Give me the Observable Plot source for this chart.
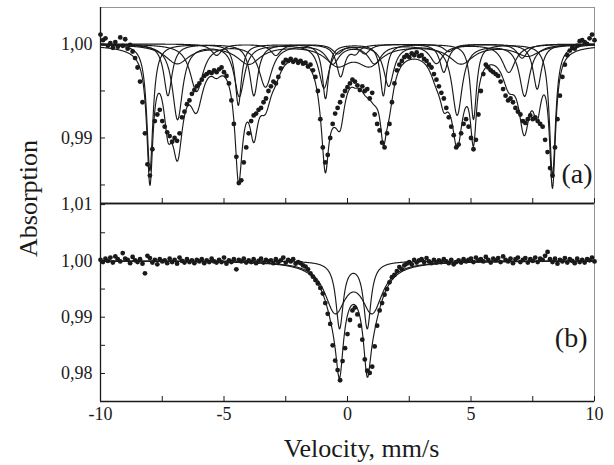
<!DOCTYPE html>
<html><head><meta charset="utf-8">
<script src="https://cdn.jsdelivr.net/npm/d3@7"></script>
<script src="https://cdn.jsdelivr.net/npm/@observablehq/plot@0.6"></script>
<style>
body{margin:0;background:#fff;}
#wrap{position:relative;width:614px;height:465px;background:#fff;}
</style></head><body><div id="wrap"></div>
<script>
// ---------- data ----------
const xDomain = [-10, 10];
const xTicks = [-10, -5, 0, 5, 10];
const xMinorTicks = [-7.5, -2.5, 2.5, 7.5];
const yDomainA = [0.98303, 1.00388];
const yTicksA = [0.99, 1.00];
const yMinorA = [0.985, 0.995];
const yDomainB = [0.97502, 1.0102];
const yTicksB = [0.98, 0.99, 1.00, 1.01];
const yMinorB = [0.985, 0.995, 1.005];

// channel velocities (mm/s), one per measured point
const channelStart = -10, channelStep = 0.1, channelCount = 201;

// panel (a) measured absorption, from -10 to 10 mm/s
const absorptionA = [
1.0010,1.0004,1.0006,0.9998,1.0001,0.9996,1.0002,0.9997,1.0007,0.9998,
1.0005,0.9995,0.9999,0.9992,0.9985,0.9975,0.9960,0.9938,0.9905,0.9872,
0.9860,0.9888,0.9918,0.9925,0.9930,0.9918,0.9912,0.9906,0.9902,0.9896,
0.9900,0.9897,0.9905,0.9922,0.9928,0.9936,0.9940,0.9947,0.9951,0.9955,
0.9958,0.9962,0.9966,0.9968,0.9970,0.9969,0.9972,0.9970,0.9973,0.9975,
0.9970,0.9966,0.9958,0.9940,0.9915,0.9880,0.9852,0.9855,0.9874,0.9890,
0.9905,0.9918,0.9924,0.9926,0.9930,0.9932,0.9938,0.9942,0.9950,0.9955,
0.9960,0.9958,0.9965,0.9974,0.9980,0.9983,0.9982,0.9984,0.9981,0.9983,
0.9980,0.9982,0.9979,0.9980,0.9976,0.9978,0.9972,0.9965,0.9950,0.9920,
0.9890,0.9874,0.9882,0.9900,0.9915,0.9926,0.9932,0.9938,0.9945,0.9950,
0.9954,0.9958,0.9962,0.9960,0.9956,0.9951,0.9955,0.9950,0.9952,0.9942,
0.9948,0.9925,0.9915,0.9908,0.9895,0.9890,0.9905,0.9915,0.9938,0.9958,
0.9972,0.9978,0.9982,0.9986,0.9988,0.9986,0.9990,0.9988,0.9991,0.9987,
0.9988,0.9984,0.9982,0.9978,0.9975,0.9968,0.9962,0.9955,0.9948,0.9942,
0.9932,0.9922,0.9912,0.9903,0.9890,0.9893,0.9905,0.9915,0.9920,0.9912,
0.9900,0.9888,0.9898,0.9925,0.9950,0.9968,0.9978,0.9975,0.9972,0.9970,
0.9968,0.9966,0.9960,0.9952,0.9945,0.9940,0.9942,0.9938,0.9932,0.9928,
0.9925,0.9918,0.9916,0.9920,0.9924,0.9920,0.9922,0.9918,0.9915,0.9912,
0.9898,0.9885,0.9868,0.9860,0.9890,0.9920,0.9945,0.9965,0.9978,0.9988,
0.9993,0.9996,0.9995,0.9998,1.0003,1.0004,1.0002,1.0000,1.0006,1.0010,
1.0004];

// panel (b) measured absorption, from -10 to 10 mm/s
const absorptionB = [
1.0002,0.9998,1.0004,1.0000,1.0006,0.9997,1.0008,1.0003,0.9999,1.0014,
1.0004,1.0002,0.9996,1.0007,1.0001,0.9998,1.0003,0.9995,0.9978,1.0009,
1.0005,0.9997,1.0002,0.9994,1.0003,0.9999,1.0001,0.9996,1.0004,0.9998,
1.0002,0.9995,1.0006,1.0000,0.9997,1.0003,0.9998,1.0001,0.9996,1.0002,
0.9999,1.0003,0.9996,1.0001,0.9998,1.0004,0.9999,0.9997,1.0002,0.9998,
1.0006,0.9995,1.0001,0.9998,1.0003,0.9985,1.0002,0.9999,1.0004,0.9997,
1.0001,0.9998,1.0003,0.9996,1.0000,1.0004,0.9997,1.0002,0.9999,1.0001,
0.9996,1.0003,0.9998,1.0001,1.0006,0.9997,1.0002,0.9999,1.0003,0.9995,
0.9998,0.9996,0.9992,0.9990,0.9985,0.9978,0.9972,0.9966,0.9960,0.9952,
0.9942,0.9925,0.9906,0.9888,0.9850,0.9823,0.9806,0.9788,0.9822,0.9845,
0.9870,0.9895,0.9912,0.9917,0.9905,0.9885,0.9860,0.9825,0.9805,0.9801,
0.9812,0.9848,0.9885,0.9912,0.9925,0.9940,0.9950,0.9962,0.9971,0.9975,
0.9982,0.9989,0.9985,0.9992,0.9995,0.9998,0.9994,1.0002,0.9997,1.0001,
1.0003,0.9998,1.0005,0.9999,0.9996,1.0002,0.9997,1.0001,0.9998,1.0003,
0.9999,0.9996,1.0002,0.9994,0.9998,1.0001,0.9997,1.0003,0.9999,1.0002,
1.0004,0.9998,1.0006,1.0001,1.0003,0.9999,1.0007,1.0002,0.9997,1.0004,
1.0001,1.0005,0.9998,1.0008,1.0002,0.9999,1.0004,0.9996,1.0003,1.0006,
0.9998,1.0002,1.0005,0.9997,1.0003,1.0000,1.0006,0.9998,1.0004,1.0002,
1.0009,1.0016,1.0003,0.9998,1.0004,0.9995,1.0002,0.9999,1.0005,0.9997,
1.0003,1.0000,0.9996,1.0004,0.9998,1.0002,0.9997,1.0003,1.0001,1.0006,
0.9999];

// fitted subspectra of panel (a): line positions (mm/s), line depths, half widths
const sextetPositions = [
  [-8.00,-4.42,-0.89,1.45,5.10,8.30],
  [-6.88,-4.38,-0.95,1.67,4.44,7.17],
  [-7.27,-3.79,-0.28,0.32,3.90,7.68],
  [-6.11,-3.32,-0.60,1.10,3.60,6.53],
  [-5.30,-2.90,-0.40,0.70,4.10,7.07],
  [-6.90,-4.00,-0.40,0.90,4.60,7.30]
];
const sextetDepths = [
  [0.0135,0.0065,0.0058,0.0055,0.0080,0.0140],
  [0.0080,0.0055,0.0046,0.0044,0.0075,0.0055],
  [0.0055,0.0055,0.0034,0.0008,0.0030,0.0048],
  [0.0050,0.0045,0.0020,0.0020,0.0020,0.0030],
  [0.0012,0.0012,0.0010,0.0010,0.0008,0.0015],
  [0.0020,0.0020,0.0020,0.0020,0.0020,0.0012]
];
const sextetWidths = [0.15, 0.25, 0.20, 0.32, 0.25, 0.60];

// fitted subspectra of panel (b)
const doubletPositions = [[-0.32, 0.80], [-0.50, 1.00]];
const doubletDepths = [0.0118, 0.0085];
const doubletWidths = [0.18, 0.52];

// ---------- build tables ----------
const vel = i => +(channelStart + i * channelStep).toFixed(2);
const pointsA = absorptionA.map((a, i) => ({v: vel(i), a}));
const pointsB = absorptionB.map((a, i) => ({v: vel(i), a}));

const lor = (v, c, d, g) => d * g * g / ((v - c) * (v - c) + g * g);
const grid = d3.range(-10, 10.0001, 0.02);

function curves(positions, depths, widths) {
  const rows = [];
  const total = grid.map(() => 0);
  positions.forEach((pos, k) => {
    grid.forEach((v, j) => {
      let s = 0;
      pos.forEach((c, l) => { s += lor(v, c, Array.isArray(depths[k]) ? depths[k][l] : depths[k], widths[k]); });
      total[j] += s;
      rows.push({v, a: 1 - s, k: "c" + k});
    });
  });
  grid.forEach((v, j) => rows.push({v, a: 1 - total[j], k: "total"}));
  return rows;
}
const curvesA = curves(sextetPositions, sextetDepths, sextetWidths);
const curvesB = curves(doubletPositions, doubletDepths, doubletWidths);

const fmt = d => d.toFixed(2).replace(".", ",");
const ink = "#1a1a1a";
const serif = "Liberation Serif";
const baseStyle = {fontFamily: serif, fontSize: "18px", background: "transparent"};

const plotA = Plot.plot({
  width: 614, height: 465,
  marginLeft: 100, marginRight: 20, marginTop: 7, marginBottom: 262,
  style: baseStyle,
  x: {domain: xDomain, label: null},
  y: {domain: yDomainA, label: null},
  marks: [
    Plot.frame({stroke: "#8a8a8a", strokeWidth: 0.9}),
    Plot.line(curvesA, {x: "v", y: "a", z: "k", stroke: ink, strokeWidth: 1.15}),
    Plot.dot(pointsA, {x: "v", y: "a", r: 2.4, fill: ink}),
    Plot.ruleX([xDomain[0]], {stroke: ink, strokeWidth: 1.3}),
    Plot.ruleY([yDomainA[0]], {stroke: ink, strokeWidth: 1.3}),
    Plot.axisY({ticks: yTicksA.concat(yMinorA), tickSize: 5, dx: 5, tickFormat: () => "", stroke: ink}),
    Plot.axisY({ticks: yTicksA, tickSize: 0, tickPadding: 8, tickFormat: fmt, fontSize: 18, fontFamily: serif, fill: ink}),
    Plot.axisX({ticks: xTicks.concat(xMinorTicks), tickSize: 5, dy: -5, tickFormat: () => "", stroke: ink}),
    Plot.text(["(a)"], {text: d => d, frameAnchor: "bottom-right", dx: -2, dy: -21, fontSize: 28, fontFamily: serif, textAnchor: "end", lineAnchor: "bottom", fill: ink})
  ]
});

const plotB = Plot.plot({
  width: 614, height: 465,
  marginLeft: 100, marginRight: 20, marginTop: 203, marginBottom: 64,
  style: baseStyle,
  x: {domain: xDomain, label: null},
  y: {domain: yDomainB, label: null},
  marks: [
    Plot.frame({stroke: "#8a8a8a", strokeWidth: 0.9}),
    Plot.line(curvesB, {x: "v", y: "a", z: "k", stroke: ink, strokeWidth: 1.15}),
    Plot.dot(pointsB, {x: "v", y: "a", r: 2.4, fill: ink}),
    Plot.ruleX([xDomain[0]], {stroke: ink, strokeWidth: 1.3}),
    Plot.ruleY(yDomainB, {stroke: ink, strokeWidth: 1.3}),
    Plot.axisY({ticks: yTicksB.concat(yMinorB), tickSize: 5, dx: 5, tickFormat: () => "", stroke: ink}),
    Plot.axisY({ticks: yTicksB, tickSize: 0, tickPadding: 8, tickFormat: fmt, fontSize: 18, fontFamily: serif, fill: ink}),
    Plot.axisX({ticks: xTicks.concat(xMinorTicks), tickSize: 5, dy: -5, tickFormat: () => "", stroke: ink}),
    Plot.axisX({ticks: xTicks, tickSize: 0, tickPadding: 6, tickFormat: d => String(d), fontSize: 18, fontFamily: serif, fill: ink}),
    Plot.text(["(b)"], {text: d => d, frameAnchor: "bottom-right", dx: -7, dy: -55, fontSize: 28, fontFamily: serif, textAnchor: "end", lineAnchor: "bottom", fill: ink}),
    Plot.text(["Velocity, mm/s"], {text: d => d, frameAnchor: "bottom", dx: 14, dy: 55, fontSize: 26, fontFamily: serif, textAnchor: "middle", lineAnchor: "bottom", fill: ink}),
    Plot.text(["Absorption"], {text: d => d, frameAnchor: "left", dx: -64, dy: -104, rotate: -90, fontSize: 26, fontFamily: serif, textAnchor: "middle", lineAnchor: "bottom", fill: ink})
  ]
});

// one top-level svg: panel (b) nested inside panel (a)
plotB.setAttribute("x", 0);
plotB.setAttribute("y", 0);
plotA.appendChild(plotB);
plotA.querySelectorAll("text").forEach(t => t.setAttribute("font-family", serif));
plotA.setAttribute("font-family", serif);
document.getElementById("wrap").appendChild(plotA);
</script>
</body></html>
